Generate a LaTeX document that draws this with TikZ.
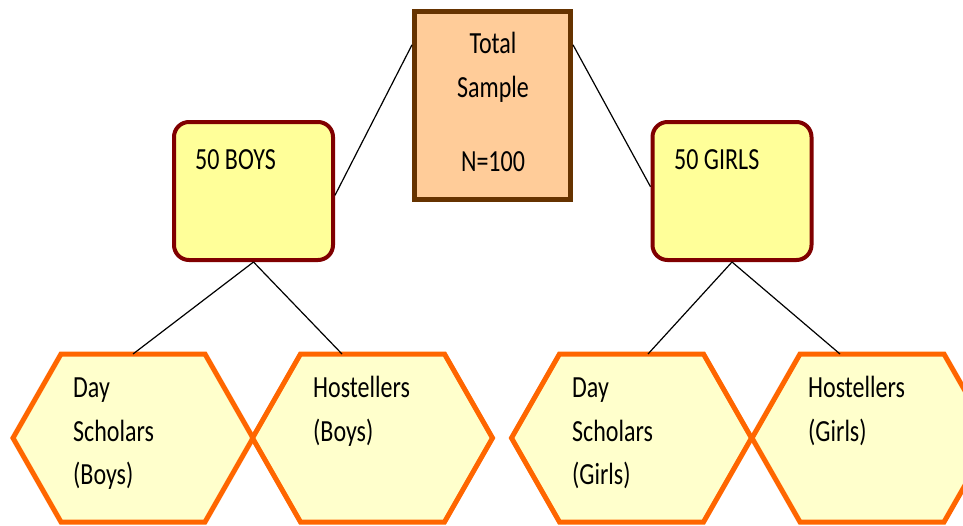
\documentclass[tikz,border=0pt]{standalone}
\usepackage{graphicx}
\usepackage{fontspec}
\setmainfont{Carlito}
\newcommand\stretchtxt[1]{\scalebox{1}[1.28]{#1}}
\begin{document}
\begin{tikzpicture}[x=1pt,y=-1pt,
  txt/.style={inner sep=0pt,font=\fontsize{24}{44}\selectfont,text=black},
  totalbox/.style={draw={rgb,255:red,102;green,51;blue,0},fill={rgb,255:red,255;green,204;blue,153},line width=5pt,minimum width=156pt,minimum height=188pt,inner sep=0pt},
  groupbox/.style={draw={rgb,255:red,128;green,0;blue,0},fill={rgb,255:red,255;green,255;blue,153},line width=4pt,rounded corners=15pt,minimum width=159pt,minimum height=138pt,inner sep=0pt},
  hexa/.style={draw={rgb,255:red,255;green,102;blue,0},fill={rgb,255:red,255;green,255;blue,204},line width=5pt},
  conn/.style={draw=black,line width=1.2pt}]
\clip (0,0) rectangle (963,525);
\fill[white] (0,0) rectangle (963,525);
% boxes
\node[totalbox] (total) at (492.5,105.5) {};
\node[groupbox] (boys) at (253.5,191) {};
\node[groupbox] (girls) at (732,191) {};
% hexagons
\foreach \n/\cx in {h1/133,h2/372.5,h3/631.5,h4/872}{
  \draw[hexa] (\cx-120,438) -- (\cx-72,354) -- (\cx+72,354) -- (\cx+120,438) -- (\cx+72,522) -- (\cx-72,522) -- cycle;
}
\coordinate (h1top) at (133,354);
\coordinate (h2top) at (342,354);
\coordinate (h3top) at (648,354);
\coordinate (h4top) at (840,354);
% connectors
\draw[conn] (total.143) -- (boys.-3);
\draw[conn] (total.37) -- (girls.177);
\draw[conn] (boys.south) -- (h1top);
\draw[conn] (boys.south) -- (h2top);
\draw[conn] (girls.south) -- (h3top);
\draw[conn] (girls.south) -- (h4top);
% texts
\node[txt,anchor=base] (t1) at (493,53) {\stretchtxt{Total}};
\node[txt,anchor=base] (t2) at (493,97) {\stretchtxt{Sample}};
\node[txt,anchor=base] (t3) at (493,171) {\stretchtxt{N=100}};
\node[txt,anchor=base west] (b1) at (195,169) {\stretchtxt{50 BOYS}};
\node[txt,anchor=base west] (g1) at (674,169) {\stretchtxt{50 GIRLS}};
\node[txt,anchor=base west] (d1) at (73,397) {\stretchtxt{Day}};
\node[txt,anchor=base west] (d2) at (73,441) {\stretchtxt{Scholars}};
\node[txt,anchor=base west] (d3) at (73,484) {\stretchtxt{(Boys)}};
\node[txt,anchor=base west] (e1) at (313,397) {\stretchtxt{Hostellers}};
\node[txt,anchor=base west] (e2) at (313,441) {\stretchtxt{(Boys)}};
\node[txt,anchor=base west] (f1) at (572,397) {\stretchtxt{Day}};
\node[txt,anchor=base west] (f2) at (572,441) {\stretchtxt{Scholars}};
\node[txt,anchor=base west] (f3) at (572,484) {\stretchtxt{(Girls)}};
\node[txt,anchor=base west] (k1) at (808,397) {\stretchtxt{Hostellers}};
\node[txt,anchor=base west] (k2) at (808,441) {\stretchtxt{(Girls)}};
\end{tikzpicture}
\end{document}
